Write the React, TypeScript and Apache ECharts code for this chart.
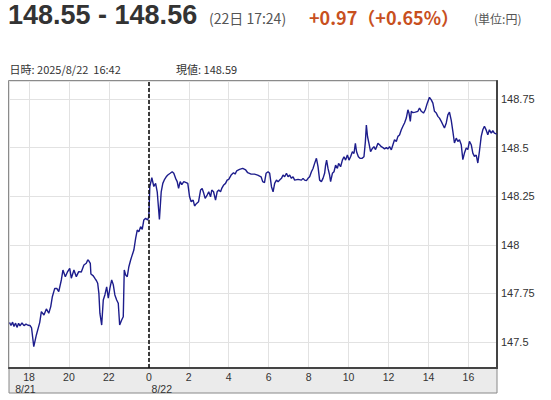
import React, { useEffect, useRef } from "react";
import * as echarts from "echarts";

const FONT = '"Noto Sans CJK JP", "Noto Sans", sans-serif';
const NUM_FONT = '"Liberation Sans", Arial, sans-serif';

// [hours since 8/21 0:00, price]
const aug21Prices: [number, number][] = [
  [17.03, 147.6], [17.1, 147.585], [17.18, 147.602], [17.25, 147.58], [17.33, 147.597],
  [17.4, 147.575], [17.48, 147.596], [17.55, 147.583], [17.65, 147.598], [17.75, 147.584],
  [17.85, 147.592], [17.95, 147.586], [18.05, 147.585], [18.13, 147.572], [18.24, 147.476],
  [18.37, 147.536], [18.54, 147.601], [18.62, 147.656], [18.75, 147.639], [18.87, 147.67],
  [18.99, 147.648], [19.09, 147.682], [19.17, 147.733], [19.29, 147.776], [19.4, 147.775],
  [19.49, 147.759], [19.62, 147.819], [19.7, 147.87], [19.82, 147.836], [19.92, 147.859],
  [20.04, 147.879], [20.12, 147.828], [20.25, 147.87], [20.37, 147.836], [20.49, 147.862],
  [20.62, 147.86], [20.75, 147.896], [20.87, 147.905], [20.94, 147.922], [20.98, 147.92],
  [21.07, 147.905], [21.1, 147.85], [21.22, 147.84], [21.3, 147.827], [21.38, 147.815],
  [21.44, 147.802], [21.5, 147.75], [21.55, 147.648], [21.64, 147.587], [21.72, 147.716],
  [21.8, 147.742], [21.89, 147.784], [21.97, 147.725], [22.05, 147.776], [22.14, 147.819],
  [22.22, 147.795], [22.3, 147.742], [22.39, 147.716], [22.47, 147.699], [22.54, 147.587],
  [22.64, 147.613], [22.72, 147.63], [22.77, 147.87], [22.84, 147.845], [22.92, 147.836],
  [23.0, 147.887], [23.09, 147.922], [23.17, 147.948], [23.25, 147.973], [23.34, 148.033],
  [23.42, 148.076], [23.5, 148.067], [23.59, 148.093], [23.67, 148.08], [23.75, 148.128],
  [23.84, 148.136], [23.94, 148.128], [24.0, 148.145],
];

const aug22Prices: [number, number][] = [
  [24.05, 148.3], [24.15, 148.345], [24.25, 148.3], [24.34, 148.316], [24.42, 148.273],
  [24.53, 148.13], [24.62, 148.273], [24.7, 148.316], [24.79, 148.337], [24.87, 148.35],
  [24.95, 148.359], [25.07, 148.368], [25.17, 148.376], [25.25, 148.368], [25.34, 148.342],
  [25.42, 148.325], [25.49, 148.291], [25.57, 148.325], [25.65, 148.31], [25.75, 148.325],
  [25.87, 148.32], [25.95, 148.316], [26.04, 148.247], [26.12, 148.222], [26.22, 148.23],
  [26.29, 148.2], [26.39, 148.213], [26.49, 148.222], [26.59, 148.282], [26.67, 148.29],
  [26.75, 148.265], [26.82, 148.239], [26.92, 148.256], [27.0, 148.273], [27.09, 148.247],
  [27.15, 148.282], [27.24, 148.273], [27.34, 148.23], [27.42, 148.273], [27.5, 148.282],
  [27.59, 148.273], [27.65, 148.29], [27.75, 148.308], [27.84, 148.316], [27.92, 148.333],
  [28.0, 148.337], [28.12, 148.359], [28.24, 148.371], [28.32, 148.364], [28.4, 148.381],
  [28.54, 148.388], [28.7, 148.393], [28.85, 148.385], [28.95, 148.371], [29.12, 148.364],
  [29.29, 148.364], [29.45, 148.359], [29.62, 148.35], [29.7, 148.325], [29.79, 148.32],
  [29.87, 148.368], [29.97, 148.376], [30.05, 148.368], [30.14, 148.299], [30.22, 148.273],
  [30.3, 148.316], [30.39, 148.333], [30.47, 148.325], [30.55, 148.333], [30.64, 148.342],
  [30.72, 148.359], [30.8, 148.35], [30.89, 148.368], [30.97, 148.35], [31.05, 148.359],
  [31.14, 148.342], [31.22, 148.35], [31.3, 148.333], [31.47, 148.337], [31.64, 148.333],
  [31.72, 148.342], [31.8, 148.333], [31.89, 148.33], [31.97, 148.342], [32.05, 148.35],
  [32.14, 148.376], [32.22, 148.393], [32.3, 148.419], [32.39, 148.445], [32.47, 148.402],
  [32.55, 148.333], [32.64, 148.325], [32.72, 148.342], [32.8, 148.368], [32.85, 148.41],
  [32.9, 148.436], [32.97, 148.393], [33.05, 148.359], [33.1, 148.325], [33.19, 148.368],
  [33.27, 148.376], [33.35, 148.41], [33.44, 148.393], [33.5, 148.419], [33.6, 148.402],
  [33.69, 148.436], [33.77, 148.453], [33.85, 148.436], [33.94, 148.462], [34.02, 148.436],
  [34.1, 148.453], [34.19, 148.479], [34.27, 148.47], [34.34, 148.522], [34.4, 148.479],
  [34.49, 148.453], [34.57, 148.445], [34.67, 148.445], [34.77, 148.453], [34.84, 148.53],
  [34.89, 148.616], [34.95, 148.556], [35.02, 148.522], [35.1, 148.479], [35.19, 148.496],
  [35.27, 148.505], [35.35, 148.49], [35.47, 148.522], [35.55, 148.515], [35.64, 148.505],
  [35.72, 148.5], [35.8, 148.494], [35.89, 148.5], [35.97, 148.494], [36.05, 148.505],
  [36.14, 148.489], [36.22, 148.515], [36.3, 148.541], [36.39, 148.532], [36.47, 148.558],
  [36.55, 148.565], [36.64, 148.592], [36.72, 148.61], [36.8, 148.627], [36.89, 148.652],
  [36.97, 148.695], [37.02, 148.68], [37.09, 148.635], [37.14, 148.687], [37.22, 148.68],
  [37.34, 148.683], [37.47, 148.687], [37.55, 148.704], [37.64, 148.687], [37.75, 148.678],
  [37.84, 148.695], [37.94, 148.729], [38.05, 148.759], [38.14, 148.746], [38.22, 148.729],
  [38.3, 148.687], [38.39, 148.678], [38.47, 148.661], [38.55, 148.652], [38.64, 148.635],
  [38.72, 148.618], [38.8, 148.601], [38.89, 148.627], [38.97, 148.669], [39.05, 148.683],
  [39.14, 148.64], [39.22, 148.584], [39.3, 148.524], [39.39, 148.549], [39.47, 148.532],
  [39.55, 148.541], [39.64, 148.515], [39.72, 148.438], [39.8, 148.472], [39.89, 148.498],
  [39.97, 148.49], [40.05, 148.532], [40.14, 148.515], [40.22, 148.472], [40.3, 148.455],
  [40.39, 148.462], [40.47, 148.421], [40.55, 148.481], [40.64, 148.558], [40.72, 148.592],
  [40.8, 148.61], [40.89, 148.59], [40.97, 148.566], [41.05, 148.592], [41.14, 148.575],
  [41.22, 148.587], [41.3, 148.575], [41.42, 148.57],
];

const dateLabels: Record<number, string> = { 18: "8/21", 24: "8/22" };
const dayBreakHour = 24;

const App: React.FC = () => {
  const chartRef = useRef<HTMLDivElement>(null);

  useEffect(() => {
    if (!chartRef.current) return;
    const chart = echarts.init(chartRef.current, undefined, { renderer: "svg" });

    const label = { fontSize: 10.5, lineHeight: 11.8, color: "#333", fontFamily: NUM_FONT };

    const option: any = {
      animation: false,
      backgroundColor: "#fff",
      textStyle: { fontFamily: FONT },
      grid: {
        left: 9,
        right: 54,
        top: 81,
        bottom: 32,
        show: true,
        borderColor: "#666",
        borderWidth: 1.5,
        backgroundColor: "#fff",
        outerBoundsMode: "none",
      },
      graphic: [
        {
          type: "rect",
          z: -1,
          shape: { x: 9, y: 368, width: 488, height: 25 },
          style: { fill: "#ebebeb", stroke: "#888", lineWidth: 1 },
        },
        {
          type: "text",
          x: 8,
          y: 15.3,
          style: {
            text: "148.55 - 148.56",
            fontSize: 27,
            fontWeight: "bold",
            fontFamily: NUM_FONT,
            fill: "#333",
            verticalAlign: "middle",
          },
        },
        {
          type: "text",
          x: 209,
          y: 18,
          style: {
            text: "(22日 17:24)",
            fontSize: 14,
            fontFamily: FONT,
            fill: "#555",
            verticalAlign: "middle",
          },
        },
        {
          type: "text",
          x: 309,
          y: 17,
          style: {
            text: "+0.97（+0.65%）",
            fontSize: 18,
            fontWeight: "bold",
            fontFamily: FONT,
            fill: "#c8501e",
            verticalAlign: "middle",
          },
        },
        {
          type: "text",
          x: 474,
          y: 18,
          style: {
            text: "(単位:円)",
            fontSize: 12,
            fontFamily: FONT,
            fill: "#555",
            verticalAlign: "middle",
          },
        },
        {
          type: "text",
          x: 9.5,
          y: 68.5,
          style: {
            text: "日時: 2025/8/22  16:42",
            fontSize: 11,
            fontFamily: FONT,
            fill: "#333",
            verticalAlign: "middle",
          },
        },
        {
          type: "text",
          x: 176,
          y: 68.5,
          style: {
            text: "現値: 148.59",
            fontSize: 11,
            fontFamily: FONT,
            fill: "#333",
            verticalAlign: "middle",
          },
        },
      ],
      xAxis: {
        type: "value",
        min: 17,
        max: 41.43,
        minInterval: 2,
        maxInterval: 2,
        axisLine: { show: true, lineStyle: { color: "#444", width: 2 } },
        axisTick: { show: false },
        splitLine: { show: true, lineStyle: { color: "#e2e2e2", width: 1 } },
        axisLabel: {
          margin: 3.5,
          formatter: (v: number) => {
            const r = Math.round(v);
            if (Math.abs(v - r) > 1e-6 || r % 2 !== 0) return "";
            const h = r % 24;
            if (r === 18) return `{t|${h}}\n{d|${dateLabels[r]}}`;
            if (r === 24) return `{t|${h}}\n{e|${dateLabels[r]}}`;
            return `{t|${h}}`;
          },
          rich: {
            t: { ...label },
            d: { ...label, padding: [0, 7, 0, 0] },
            e: { ...label, padding: [0, 0, 0, 26] },
          },
        },
      },
      yAxis: {
        type: "value",
        position: "right",
        min: 147.366,
        max: 148.843,
        minInterval: 0.25,
        maxInterval: 0.25,
        axisLine: { show: true, lineStyle: { color: "#444", width: 2 } },
        axisTick: { show: false },
        splitLine: { show: true, lineStyle: { color: "#e2e2e2", width: 1 } },
        axisLabel: {
          margin: 4,
          fontSize: 11,
          color: "#333",
          fontFamily: NUM_FONT,
          formatter: (v: number) => {
            const q = Math.round(v * 4);
            if (Math.abs(v * 4 - q) > 1e-6) return "";
            return String(q / 4);
          },
        },
      },
      series: [
        {
          type: "line",
          data: [...aug21Prices, ...aug22Prices],
          showSymbol: false,
          lineStyle: { color: "#1d1d8c", width: 1.4 },
          itemStyle: { color: "#1d1d8c" },
          markLine: {
            silent: true,
            symbol: ["none", "none"],
            label: { show: false },
            lineStyle: { type: [4, 2], color: "#111", width: 1.6 },
            data: [{ xAxis: dayBreakHour }],
          },
        },
      ],
    };

    chart.setOption(option);
    return () => {
      chart.dispose();
    };
  }, []);

  return (
    <div
      ref={chartRef}
      style={{ position: "fixed", left: 0, top: 0, width: 551, height: 400 }}
    />
  );
};

export default App;
